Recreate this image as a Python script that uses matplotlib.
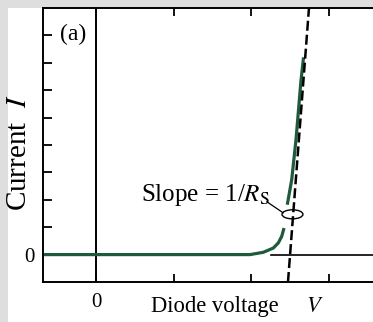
import matplotlib
matplotlib.use("Agg")
import matplotlib.pyplot as plt
from matplotlib.patches import Ellipse, Rectangle

plt.rcParams['font.family'] = ['Liberation Serif', 'DejaVu Serif']
plt.rcParams['mathtext.fontset'] = 'stix'

# diode I-V curve (V, I), lower part below the ellipse
v_low = [-0.684, 1.987, 2.159, 2.288, 2.352, 2.396, 2.426]
i_low = [0.0, 0.0, 0.084, 0.24, 0.425, 0.665, 0.97]
# upper part above the ellipse
v_high = [2.468, 2.525, 2.58, 2.645, 2.678]
i_high = [1.82, 2.73, 4.18, 6.36, 7.2]

# asymptote with slope 1/Rs
v_dash = [2.477, 2.748]
i_dash = [-1.0, 9.0]

x_ticks = [0, 1, 2, 3]
x_tick_labels = ['0', '', '', '']
y_ticks = [0, 1, 2, 3, 4, 5, 6, 7, 8]
y_tick_labels = ['0', '', '', '', '', '', '', '', '']

W, H = 373, 322
green = '#1f5b3a'

fig = plt.figure(figsize=(W / 100, H / 100), dpi=100, facecolor='#dedede')
fig.patches.append(Rectangle((8 / W, 0), 1, 1 - 8 / H, transform=fig.transFigure,
                             facecolor='white', edgecolor='none', zorder=-5))

ax = fig.add_axes([43 / W, 1 - 282 / H, (W - 43) / W, (282 - 8) / H])
ax.set_zorder(1)
ax.set_facecolor('white')
ax.set_xlim(-0.684, 3.574)
ax.set_ylim(-1, 9)

for side in ['left', 'top', 'bottom']:
    ax.spines[side].set_linewidth(1.4)
ax.spines['right'].set_visible(False)

ax.set_xticks(x_ticks)
ax.set_xticklabels(x_tick_labels)
ax.set_yticks(y_ticks)
ax.set_yticklabels(y_tick_labels)
ax.tick_params(axis='x', direction='in', length=6, width=1.3, top=True,
               labelsize=15, pad=8)
ax.tick_params(axis='y', direction='in', length=6.5, width=1.3,
               labelsize=15, pad=6)

# reference lines
ax.axvline(0, color='black', lw=1.4, zorder=1)
ax.plot([2.26, 3.574], [0, 0], color='black', lw=1.2, zorder=1)

ax.plot(v_low, i_low, color=green, lw=2.3, solid_capstyle='butt', zorder=2)
ax.plot(v_high, i_high, color=green, lw=2.3, solid_capstyle='butt', zorder=2)
ax.plot(v_dash, i_dash, color='black', lw=1.8, ls=(0, (4, 1.6)), zorder=3)

ax.add_patch(Ellipse((2.535, 1.47), 0.27, 0.33, facecolor='none',
                     edgecolor='black', lw=1.0, zorder=4))
ax.plot([2.206, 2.413], [1.927, 1.527], color='black', lw=0.9, zorder=4)

ax.text(2.245, 1.95, r'Slope = 1/$R_\mathrm{S}$', fontsize=18, ha='right',
        va='baseline')
ax.text(-0.47, 8.05, '(a)', fontsize=17, ha='left', va='center')

fig.text(214.5 / W, 1 - 312 / H, 'Diode voltage', fontsize=16.3,
         ha='center', va='baseline')
fig.text(314.5 / W, 1 - 312 / H, r'$V$', fontsize=16.3,
         ha='center', va='baseline')
fig.text(19 / W, 1 - 153 / H, r'Current  $I$', fontsize=21, rotation=90,
         ha='center', va='center')

fig.savefig('out.png', dpi=100, facecolor=fig.get_facecolor())
